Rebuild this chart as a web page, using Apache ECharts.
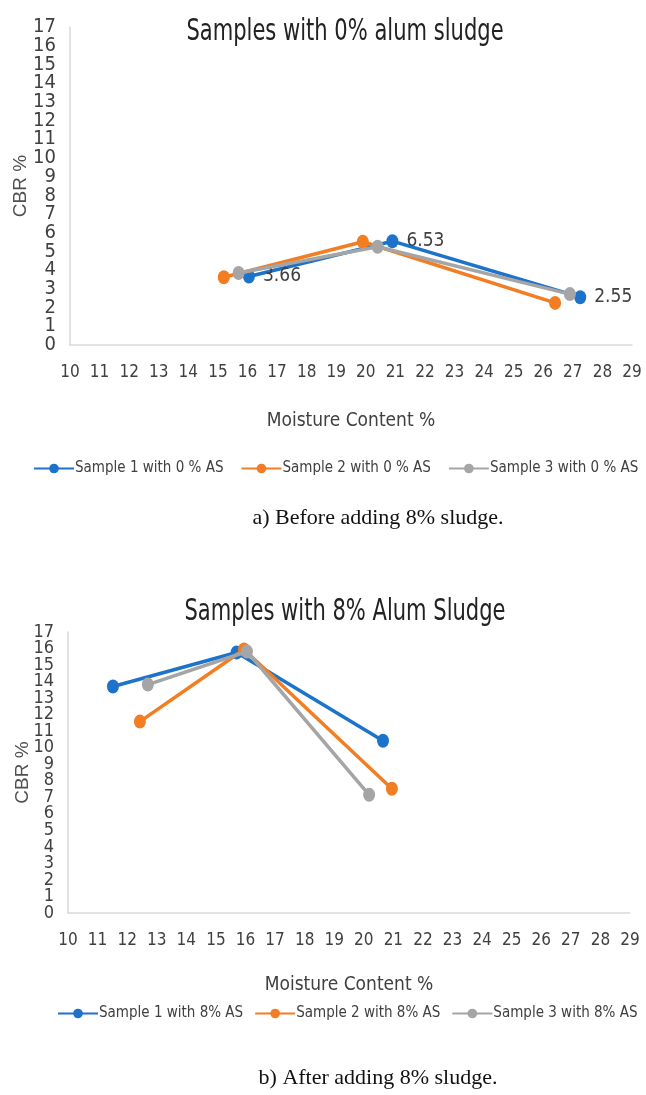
<!DOCTYPE html>
<html>
<head>
<meta charset="utf-8">
<script src="https://cdn.jsdelivr.net/npm/echarts@6/dist/echarts.min.js"></script>
<style>
html,body{margin:0;padding:0;background:#fff;}
#c{width:646px;height:1095px;}
</style>
</head>
<body>
<div id="c"></div>
<script>
// ---------- data ----------
const titles = ['Samples with 0% alum sludge', 'Samples with 8% Alum Sludge'];
const captions = ['a) Before adding 8% sludge.', 'b) After adding 8% sludge.'];
const xName = 'Moisture Content %';
const yName = 'CBR %';

const names0 = ['Sample 1 with 0 % AS', 'Sample 2 with 0 % AS', 'Sample 3 with 0 % AS'];
const s1_0_x = [16.05, 20.9, 27.25];
const s1_0_y = [3.66, 5.55, 2.55];
const s1_0_labels = ['3.66', '6.53', '2.55'];
const s2_0_x = [15.2, 19.9, 26.4];
const s2_0_y = [3.62, 5.52, 2.25];
const s3_0_x = [15.7, 20.4, 26.9];
const s3_0_y = [3.85, 5.25, 2.72];

const names8 = ['Sample 1 with 8% AS', 'Sample 2 with 8% AS', 'Sample 3 with 8% AS'];
const s1_8_x = [11.52, 15.7, 20.65];
const s1_8_y = [13.7, 15.76, 10.42];
const s2_8_x = [12.43, 15.95, 20.95];
const s2_8_y = [11.58, 15.94, 7.52];
const s3_8_x = [12.7, 16.05, 20.18];
const s3_8_y = [13.82, 15.82, 7.15];

const xMin = 10, xMax = 29, yMin = 0, yMax = 17;

// ---------- styling ----------
const colors = ['#1c73c9', '#f27d22', '#a5a5a5'];
const NARROW = '"Liberation Sans Narrow","DejaVu Sans Condensed","Open Sans",sans-serif';
const SANS = '"Liberation Sans",Arial,sans-serif';
const SERIF = '"Liberation Serif","DejaVu Serif",serif';
const txt = '#404040';

function zip(xs, ys) { return xs.map((x, i) => [x, ys[i]]); }

function xAxis(gridIndex, nameGap) {
  return {
    type: 'value', gridIndex, min: xMin, max: xMax, interval: 1,
    name: xName, nameLocation: 'middle', nameGap, nameMoveOverlap: false,
    nameTextStyle: { fontFamily: NARROW, fontSize: 19, color: txt },
    axisLine: { show: true, onZero: false, lineStyle: { color: '#d9d9d9', width: 1.5 } },
    axisTick: { show: false },
    splitLine: { show: false },
    axisLabel: { fontFamily: NARROW, fontSize: 17, color: txt, margin: 19,
      showMinLabel: true, showMaxLabel: true, hideOverlap: false }
  };
}
// main y axis: ticks every 1, inner labels (1..16)
function yAxis(gridIndex, fs, nameGap) {
  return {
    type: 'value', gridIndex, position: 'left', min: yMin, max: yMax, interval: 1,
    name: yName, nameLocation: 'middle', nameGap, nameMoveOverlap: false,
    nameTextStyle: { fontFamily: SANS, fontSize: 19, color: '#505050' },
    axisLine: { show: true, onZero: false, lineStyle: { color: '#d9d9d9', width: 1.5 } },
    axisTick: { show: false },
    splitLine: { show: false },
    axisLabel: { fontFamily: NARROW, fontSize: fs, color: txt, margin: 14,
      showMinLabel: false, showMaxLabel: false, hideOverlap: false }
  };
}
// companion y axis on the same grid carrying the end labels (0 and 17)
function yAxisEnds(gridIndex, fs) {
  return {
    type: 'value', gridIndex, position: 'left', offset: 0, min: yMin, max: yMax, interval: yMax - yMin,
    axisLine: { show: false, onZero: false }, axisTick: { show: false }, splitLine: { show: false },
    axisLabel: { fontFamily: NARROW, fontSize: fs, color: txt, margin: 14,
      showMinLabel: true, showMaxLabel: true }
  };
}
function line(name, data, idx, gi, labels) {
  const s = {
    name, type: 'line', xAxisIndex: gi, yAxisIndex: gi, data,
    symbol: 'circle', symbolSize: [12, 14],
    itemStyle: { color: colors[idx] },
    lineStyle: { color: colors[idx], width: 3.5 },
    emphasis: { disabled: true },
    z: 2 + idx
  };
  if (labels) {
    s.label = {
      show: true, position: 'right', distance: 8,
      fontFamily: NARROW, fontSize: 19, color: txt,
      formatter: p => labels[p.dataIndex]
    };
  }
  return s;
}

const chart = echarts.init(document.getElementById('c'), null, { renderer: 'canvas' });
chart.setOption({
  backgroundColor: '#fff',
  animation: false,
  grid: [
    { left: 70, top: 27, width: 562, height: 318, outerBoundsMode: 'none', containLabel: false },
    { left: 68, top: 632, width: 562, height: 281, outerBoundsMode: 'none', containLabel: false }
  ],
  xAxis: [xAxis(0, 67), xAxis(1, 63)],
  yAxis: [yAxis(0, 20, 40), yAxis(1, 18, 36), yAxisEnds(0, 20), yAxisEnds(1, 18)],
  legend: [
    { data: names0, left: 28, top: 456, width: 630, itemWidth: 40, itemHeight: 12, itemGap: 17,
      textStyle: { fontFamily: NARROW, fontSize: 15, color: txt, padding: [0, 0, 0, -4] } },
    { data: names8, left: 52, top: 1001, width: 630, itemWidth: 40, itemHeight: 12, itemGap: 11,
      textStyle: { fontFamily: NARROW, fontSize: 15, color: txt, padding: [0, 0, 0, -4] } }
  ],
  series: [
    line(names0[0], zip(s1_0_x, s1_0_y), 0, 0, s1_0_labels),
    line(names0[1], zip(s2_0_x, s2_0_y), 1, 0),
    line(names0[2], zip(s3_0_x, s3_0_y), 2, 0),
    line(names8[0], zip(s1_8_x, s1_8_y), 0, 1),
    line(names8[1], zip(s2_8_x, s2_8_y), 1, 1),
    line(names8[2], zip(s3_8_x, s3_8_y), 2, 1)
  ],
  graphic: [
    { type: 'text', x: 345, y: 32, scaleX: 0.78,
      style: { text: titles[0], font: '30px ' + NARROW, fill: '#222', align: 'center', verticalAlign: 'middle' } },
    { type: 'text', x: 345, y: 612, scaleX: 0.78,
      style: { text: titles[1], font: '30px ' + NARROW, fill: '#222', align: 'center', verticalAlign: 'middle' } },
    { type: 'text', x: 378, y: 518,
      style: { text: captions[0], font: '22px ' + SERIF, fill: '#111', align: 'center', verticalAlign: 'middle' } },
    { type: 'text', x: 378, y: 1078,
      style: { text: captions[1], font: '22px ' + SERIF, fill: '#111', align: 'center', verticalAlign: 'middle' } }
  ]
});
</script>
</body>
</html>
